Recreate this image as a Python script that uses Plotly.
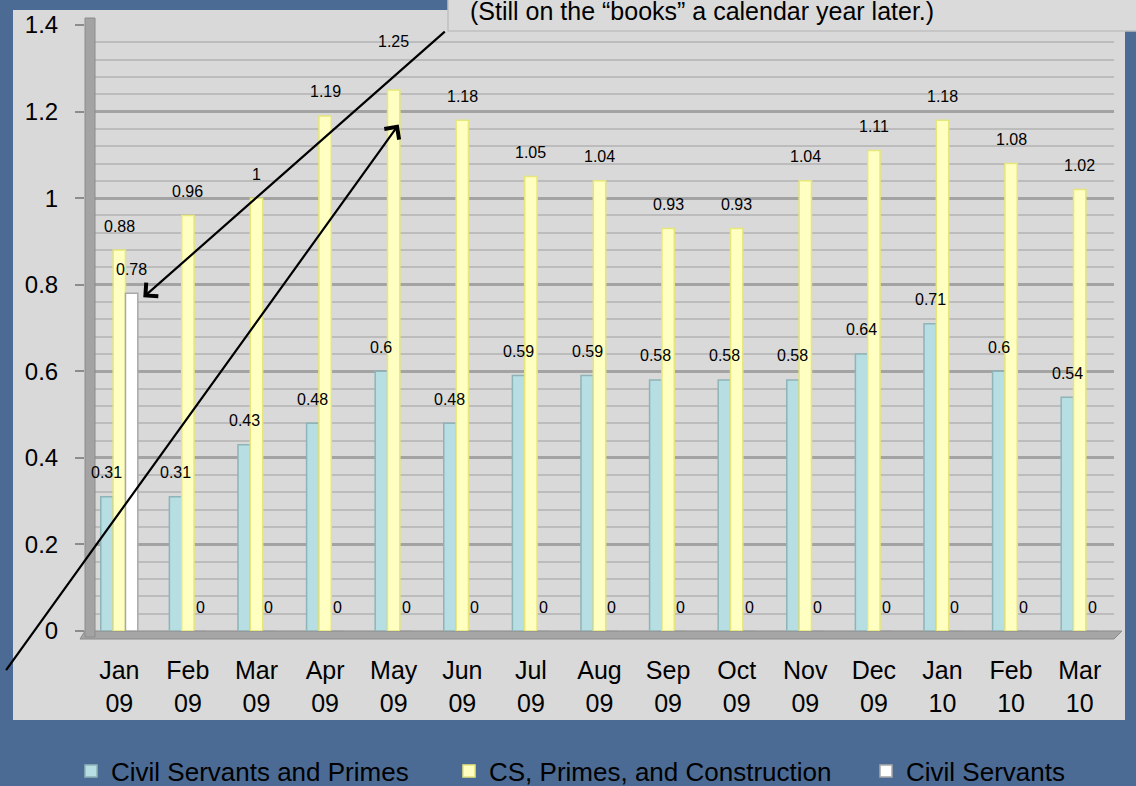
import plotly.graph_objects as go

# ---------------- data ----------------
categories = ["Jan 09", "Feb 09", "Mar 09", "Apr 09", "May 09", "Jun 09", "Jul 09", "Aug 09",
              "Sep 09", "Oct 09", "Nov 09", "Dec 09", "Jan 10", "Feb 10", "Mar 10"]
tick_labels = ["Jan<br>09", "Feb<br>09", "Mar<br>09", "Apr<br>09", "May<br>09", "Jun<br>09",
               "Jul<br>09", "Aug<br>09", "Sep<br>09", "Oct<br>09", "Nov<br>09", "Dec<br>09",
               "Jan<br>10", "Feb<br>10", "Mar<br>10"]
cs_primes = [0.31, 0.31, 0.43, 0.48, 0.6, 0.48, 0.59, 0.59, 0.58, 0.58, 0.58, 0.64, 0.71, 0.6, 0.54]
cs_primes_construction = [0.88, 0.96, 1, 1.19, 1.25, 1.18, 1.05, 1.04, 0.93, 0.93, 1.04, 1.11, 1.18, 1.08, 1.02]
civil_servants = [0.78, 0, 0, 0, 0, 0, 0, 0, 0, 0, 0, 0, 0, 0, 0]
series_names = ["Civil Servants and Primes", "CS, Primes, and Construction", "Civil Servants"]
y_ticks = [0, 0.2, 0.4, 0.6, 0.8, 1, 1.2, 1.4]
y_tick_text = ["0", "0.2", "0.4", "0.6", "0.8", "1", "1.2", "1.4"]
note_text = "(Still on the \u201cbooks\u201d a calendar year later.)"

# ---------------- layout constants ----------------
W, H = 1136, 786
L, R, T, B = 85, 22, 25, 155
PW, PH = W - L - R, H - T - B
FONT = "Arial, 'Liberation Sans', sans-serif"
BLUE = "#4b6b95"
BARGAP = 0.46


def px2x(px):
    return (px - L) / PW


def px2y(py):
    return (H - B - py) / PH


fills = ["#b7dfe3", "#ffffc2", "#ffffff"]
edges = ["#8eb4b8", "#e6e67a", "#a8a8a8"]
legend_ids = ["legend", "legend2", "legend3"]
legend_left_px = [71, 449, 866]
series_values = [cs_primes, cs_primes_construction, civil_servants]

fig = go.Figure()
for name, vals, fc, ec, lg in zip(series_names, series_values, fills, edges, legend_ids):
    fig.add_trace(go.Bar(
        name=name, x=categories, y=vals, legend=lg,
        marker=dict(color=fc, line=dict(color=ec, width=1.5)),
        hoverinfo="x+y+name",
    ))

# data labels (annotations attached to each bar value)
cat_px = PW / len(categories)
bar_px = cat_px * (1 - BARGAP) / 3
label_lift = {(1, 4): 24}  # the May 09 label sits higher in the original
annotations = []
for si, vals in enumerate(series_values):
    for ci, (c, v) in enumerate(zip(categories, vals)):
        annotations.append(dict(
            x=c, y=v, xref="x", yref="y", text=f"{v:g}", showarrow=False,
            xshift=(si - 1) * bar_px, yshift=24 + label_lift.get((si, ci), 0),
            font=dict(family=FONT, size=16, color="#000000"),
        ))

# callout text
annotations.append(dict(
    x=px2x(468), y=px2y(27), xref="paper", yref="paper", xanchor="left", yanchor="bottom",
    text=note_text, showarrow=False, font=dict(family=FONT, size=25, color="#000000"),
))
# arrows
annotations.append(dict(
    x=categories[0], y=civil_servants[0], xref="x", yref="y", text="",
    xshift=24, yshift=-4, showarrow=True, arrowhead=4, arrowsize=1.6, arrowwidth=2.2,
    arrowcolor="#000000", axref="pixel", ayref="pixel", ax=303, ay=-267,
))
annotations.append(dict(
    x=categories[4], y=1.17, xref="x", yref="y", text="",
    xshift=5, showarrow=True, arrowhead=4, arrowsize=1.6, arrowwidth=2.2,
    arrowcolor="#000000", axref="pixel", ayref="pixel", ax=-400, ay=547,
))

shapes = [
    # light gray chart panel
    dict(type="rect", xref="paper", yref="paper", x0=px2x(13), x1=px2x(1125),
         y0=px2y(720), y1=px2y(10), fillcolor="#d9d9d9", line=dict(width=0), layer="below"),
    # left side wall (3-D look)
    dict(type="rect", xref="paper", yref="paper", x0=px2x(85), x1=px2x(95),
         y0=px2y(637), y1=px2y(18), fillcolor="#a3a3a3", line=dict(color="#8c8c8c", width=1),
         layer="above"),
    # floor
    dict(type="path", xref="paper", yref="paper",
         path=(f"M {px2x(85)},{px2y(631)} L {px2x(1122)},{px2y(631)} "
               f"L {px2x(1114)},{px2y(639)} L {px2x(80)},{px2y(639)} Z"),
         fillcolor="#a6a6a6", line=dict(color="#8a8a8a", width=1), layer="below"),
    # callout box
    dict(type="rect", xref="paper", yref="paper", x0=px2x(448), x1=px2x(1140),
         y0=px2y(31), y1=px2y(-10), fillcolor="#dadada", line=dict(color="#c0c0c0", width=1.5),
         layer="above"),
]

legend_style = dict(orientation="h", yanchor="middle", xanchor="left", y=px2y(771),
                    font=dict(family=FONT, size=26, color="#000000"),
                    bgcolor="rgba(0,0,0,0)", itemwidth=30)
legends = {lg: dict(legend_style, x=px2x(xp)) for lg, xp in zip(legend_ids, legend_left_px)}

fig.update_layout(
    width=W, height=H,
    margin=dict(l=L, r=R, t=T, b=B, autoexpand=False),
    paper_bgcolor=BLUE, plot_bgcolor="#e7e7e7",
    barmode="group", bargap=BARGAP, bargroupgap=0,
    font=dict(family=FONT, size=25, color="#000000"),
    showlegend=True,
    annotations=annotations,
    shapes=shapes,
    **legends,
)
fig.update_xaxes(
    type="category", range=[-0.5, len(categories) - 0.5],
    tickmode="array", tickvals=categories, ticktext=tick_labels,
    tickfont=dict(family=FONT, size=25, color="#000000"),
    showgrid=False, ticks="", showline=False, zeroline=False, ticklabelstandoff=22,
)
fig.update_yaxes(
    range=[0, 1.4], tickmode="array", tickvals=y_ticks, ticktext=y_tick_text,
    tickfont=dict(family=FONT, size=24, color="#000000"),
    showgrid=True, gridcolor="#a3a3a3", gridwidth=2.5,
    minor=dict(dtick=0.04, tick0=0, showgrid=True, gridcolor="#bcbcbc", gridwidth=2),
    ticks="outside", ticklen=9, tickwidth=2, tickcolor="#8c8c8c",
    zeroline=False, showline=False, ticklabelstandoff=12,
)

fig.write_html(
    "out.html",
    config={"displayModeBar": False},
    post_script=("document.body.style.margin='0';document.body.style.overflow='hidden';"
                 "document.body.style.background='" + BLUE + "';"),
)
